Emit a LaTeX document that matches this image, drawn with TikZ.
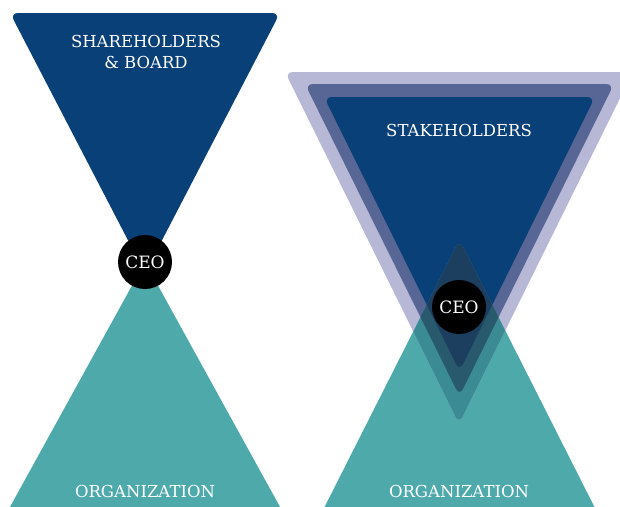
\documentclass[tikz,border=0pt]{standalone}
\usepackage{fontspec}
\setmainfont{DejaVu Serif}
\definecolor{navy}{RGB}{10,64,120}
\definecolor{lav}{RGB}{182,184,214}
\definecolor{midl}{RGB}{87,102,148}
\definecolor{teal2}{RGB}{78,169,171}
\definecolor{lavteal}{RGB}{59,139,149}
\definecolor{midteal}{RGB}{40,89,108}
\definecolor{navyteal}{RGB}{28,63,95}
\tikzset{
  lbl/.style={text=white,font=\fontsize{16.5}{21}\selectfont,align=center,inner sep=0pt},
  ceo/.style={circle,fill=black,minimum size=54pt,inner sep=0pt,text=white,font=\fontsize{17}{21}\selectfont},
  tri/.style={rounded corners=8pt}
}
\begin{document}
\begin{tikzpicture}[x=1pt,y=-1pt]
\useasboundingbox (0,0) rectangle (620,506);
% left
\fill[teal2,tri] (5,516) -- (145,262) -- (285,516) -- cycle;
\fill[navy,tri] (10,13) -- (280,13) -- (145,273) -- cycle;
\node[ceo] (ceo1) at (145,262) {CEO};
\node[lbl] (sh) at (146,52) {SHAREHOLDERS\\\& BOARD};
\node[lbl] (org1) at (145,491) {ORGANIZATION};
% right
\def\tealpath{(320,516) -- (459.5,240) -- (599,516) -- cycle}
\fill[teal2,tri] \tealpath;
\fill[lav,tri] (285,72) -- (633,72) -- (459,424) -- cycle;
\fill[midl,tri] (305,84) -- (614,84) -- (459.5,396) -- cycle;
\fill[navy,tri] (324,97) -- (595,97) -- (459.5,371) -- cycle;
\begin{scope}
  \clip[tri] \tealpath;
  \fill[lavteal,tri] (285,72) -- (633,72) -- (459,424) -- cycle;
  \fill[midteal,tri] (305,84) -- (614,84) -- (459.5,396) -- cycle;
  \fill[navyteal,tri] (324,97) -- (595,97) -- (459.5,371) -- cycle;
\end{scope}
\node[ceo] (ceo2) at (459,307) {CEO};
\node[lbl] (stk) at (459,130) {STAKEHOLDERS};
\node[lbl] (org2) at (459,491) {ORGANIZATION};
\end{tikzpicture}
\end{document}
